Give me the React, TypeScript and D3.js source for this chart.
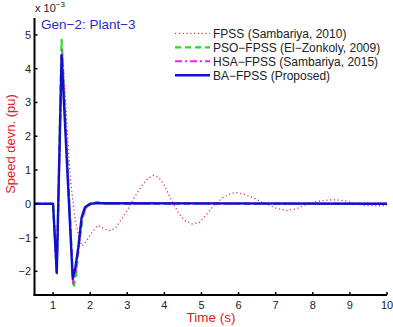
import React from "react";
import * as d3 from "d3";

const xTicks = [1, 2, 3, 4, 5, 6, 7, 8, 9, 10];
const yTicks = [-2, -1, 0, 1, 2, 3, 4, 5];

const fpssT = [0.5, 1.0, 1.1, 1.25, 1.35, 1.45, 1.52, 1.6, 1.7, 1.78, 1.9, 2.05, 2.2, 2.4, 2.55, 2.7, 2.85, 3.0, 3.2, 3.4, 3.55, 3.7, 3.85, 4.0, 4.15, 4.25, 4.4, 4.55, 4.75, 4.95, 5.15, 5.37, 5.6, 5.8, 5.95, 6.15, 6.4, 6.6, 6.76, 7.0, 7.3, 7.55, 7.84, 8.1, 8.4, 8.65, 8.9, 9.1, 9.36, 9.7, 10];
const fpssV = [0, 0, -2.0, 4.55, 2.8, 1.0, 0.2, -0.5, -1.0, -1.25, -1.1, -0.85, -0.64, -0.75, -0.8, -0.7, -0.45, -0.2, 0.2, 0.55, 0.75, 0.84, 0.78, 0.55, 0.2, -0.02, -0.3, -0.5, -0.6, -0.55, -0.3, 0, 0.2, 0.31, 0.33, 0.28, 0.18, 0.06, 0, -0.13, -0.2, -0.15, 0, 0.07, 0.11, 0.12, 0.08, 0.02, -0.04, -0.06, -0.05];

const psoT = [0.5, 1.0, 1.1, 1.23, 1.55, 1.62, 1.7, 1.8, 1.9, 2.05, 2.2, 2.4, 10];
const psoV = [0, 0, -2.05, 4.85, -2.48, -2.1, -1.2, -0.4, -0.1, 0.02, 0.05, 0, 0];

const hsaT = [0.5, 1.0, 1.1, 1.24, 1.54, 1.61, 1.69, 1.78, 1.88, 2.02, 2.2, 2.4, 10];
const hsaV = [0, 0, -2.05, 4.55, -2.35, -2.0, -1.25, -0.4, -0.12, 0.0, 0.03, 0, 0];

const baT = [0.5, 1.0, 1.1, 1.23, 1.53, 1.6, 1.68, 1.77, 1.86, 2.0, 2.2, 10];
const baV = [0, 0, -2.05, 4.4, -2.22, -1.9, -1.3, -0.4, -0.1, 0.0, 0.02, 0];

const seriesNames = ["FPSS (Sambariya, 2010)", "PSO\u2212FPSS (El\u2212Zonkoly, 2009)", "HSA\u2212FPSS (Sambariya, 2015)", "BA\u2212FPSS (Proposed)"];

export default function App() {
  const W = 393, H = 327;
  const x = d3.scaleLinear().domain([0.5, 10]).range([34.5, 387]);
  const y = d3.scaleLinear().domain([-2.7, 5.5]).range([295, 18]);
  const line = d3.line<[number, number]>().x(d => x(d[0])).y(d => y(d[1]));
  const mk = (t: number[], v: number[]) => line(t.map((tt, i) => [tt, v[i]] as [number, number])) || "";

  const styles = [
    { color: "#d03a4a", width: 1.3, dash: "1.2,2.6", path: mk(fpssT, fpssV) },
    { color: "#22dd22", width: 2.2, dash: "6,4", path: mk(psoT, psoV) },
    { color: "#ee22ee", width: 2.0, dash: "7,3,2,3", path: mk(hsaT, hsaV) },
    { color: "#1111cc", width: 2.4, dash: "", path: mk(baT, baV) },
  ];
  const font = "Liberation Sans, Arial, Helvetica, sans-serif";
  const x0 = x.range()[0], y0 = y.range()[0];

  return (
    <svg width={W} height={H} style={{ position: "absolute", left: 0, top: 0, background: "#fff" }} fontFamily={font}>
      <rect width={W} height={H} fill="#fff" />
      {styles.map((s, i) => (
        <path key={i} d={s.path} fill="none" stroke={s.color} strokeWidth={s.width} strokeDasharray={s.dash || undefined} strokeLinejoin="round" />
      ))}
      <line x1={x0} x2={x0} y1={18} y2={y0 + 1} stroke="#000" strokeWidth={2} />
      <line x1={x0 - 1} x2={387} y1={y0} y2={y0} stroke="#000" strokeWidth={2} />
      {yTicks.map(t => (
        <g key={"y" + t}>
          <line x1={x0} x2={x0 + 3} y1={y(t)} y2={y(t)} stroke="#000" strokeWidth={1.5} />
          <text x={31} y={y(t) + 4} textAnchor="end" fontSize={11} fill="#222">{t < 0 ? "\u2212" + Math.abs(t) : t}</text>
        </g>
      ))}
      {xTicks.map(t => (
        <g key={"x" + t}>
          <line x1={x(t)} x2={x(t)} y1={y0} y2={y0 - 3} stroke="#000" strokeWidth={1.5} />
          <text x={x(t)} y={309} textAnchor="middle" fontSize={11} fill="#222">{t}</text>
        </g>
      ))}
      <text x={35} y={12} fontSize={11} fill="#222">x 10<tspan dy={-5} fontSize={8}>{"\u22123"}</tspan></text>
      <text x={41} y={29} fontSize={13.5} fill="#2a2acc">Gen{"\u2212"}2: Plant{"\u2212"}3</text>
      <text x={211} y={322} textAnchor="middle" fontSize={13.5} fill="#dd2222">Time (s)</text>
      <text transform={`translate(15,144) rotate(-90)`} textAnchor="middle" fontSize={13} fill="#dd2222">Speed devn. (pu)</text>
      {styles.map((s, i) => {
        const ly = 33.3 + i * 14;
        return (
          <g key={"l" + i}>
            <line x1={175} x2={210} y1={ly} y2={ly} stroke={s.color} strokeWidth={s.width} strokeDasharray={s.dash || undefined} />
            <text x={213} y={ly + 4.2} fontSize={12} fill="#222">{seriesNames[i]}</text>
          </g>
        );
      })}
    </svg>
  );
}
